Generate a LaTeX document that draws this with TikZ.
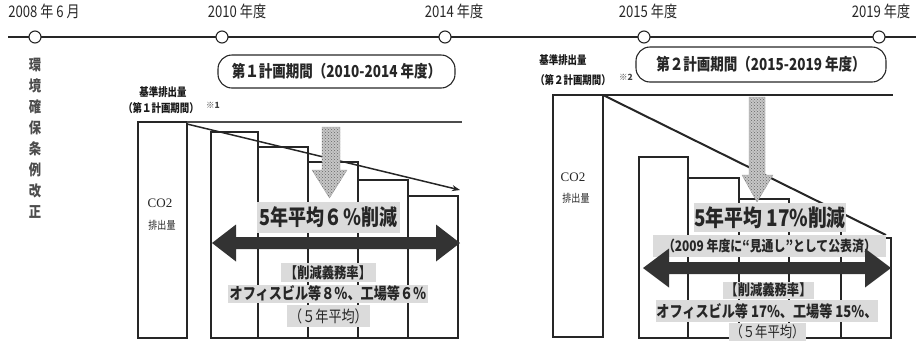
\documentclass[tikz,border=0pt]{standalone}
\usepackage{fontspec}
\usepackage{graphicx}
\setmainfont{Noto Sans CJK JP}
\newfontfamily\serifco{Liberation Serif}
\usetikzlibrary{patterns,arrows.meta}
\newcommand{\nw}[1]{\scalebox{0.82}[1]{#1}}
\newcommand{\fs}[1]{\fontsize{#1}{#1}\selectfont}
\begin{document}
\begin{tikzpicture}[x=1pt,y=-1pt,
  tl/.style={line width=1.2pt, draw=black!85},
  mile/.style={circle, draw=black!85, line width=1.1pt, fill=white, minimum size=12pt, inner sep=0pt},
  yr/.style={font=\fs{16}, inner sep=0pt, text=black!85},
  vch/.style={font=\bfseries\fs{15}, inner sep=0pt, text=black!70},
  pbox/.style={draw=black!85, line width=1.1pt, rounded corners=14pt, inner sep=0pt, font=\bfseries\fs{16.5}, text=black!85},
  kijun/.style={font=\bfseries\fs{11.5}, inner sep=0pt, text=black!90},
  note/.style={font=\bfseries\fs{8.5}, inner sep=0pt, text=black!75},
  bar/.style={draw=black!85, line width=1.1pt},
  refl/.style={draw=black!70, line width=1.8pt},
  gbox/.style={fill=gray!28, inner sep=0pt, text=black!85},
  hatch/.style={fill=gray!45, draw=gray!80, line width=0.3pt},
  hatchdots/.style={pattern=crosshatch dots, pattern color=black!60},
  darr/.style={fill=black!80},
  co/.style={font=\serifco\fs{13}, inner sep=0pt, text=black!85},
  hai/.style={font=\fs{11}, inner sep=0pt, text=black!85}
]
\useasboundingbox (0,0) rectangle (916,341);

% ---------- timeline ----------
\coordinate (tlL) at (8,37);
\coordinate (tlR) at (916,37);
\draw[tl] (tlL) -- (tlR);
\node[mile] (m08) at (35,37) {};
\node[mile] (m10) at (222,37) {};
\node[mile] (m14) at (445,37) {};
\node[mile] (m15) at (644,37) {};
\node[mile] (m19) at (879,37) {};
\node[yr] (y08) at (44,11) {\nw{2008 年 6 月}};
\node[yr] (y10) at (237,11) {\nw{2010 年度}};
\node[yr] (y14) at (454,11) {\nw{2014 年度}};
\node[yr] (y15) at (648,11) {\nw{2015 年度}};
\node[yr] (y19) at (881,11) {\nw{2019 年度}};

% vertical text
\foreach \c [count=\i from 0] in {環,境,確,保,条,例,改,正}
  \node[vch] (v\i) at (35,65+21*\i) {\nw{\c}};

% plan period boxes
\node[pbox, minimum width=237pt, minimum height=33pt] (p1) at (336.5,71.5) {\nw{第１計画期間（2010-2014 年度）}};
\node[pbox, minimum width=250pt, minimum height=35pt] (p2) at (761,64.5) {\nw{第２計画期間（2015-2019 年度）}};

% ---------- chart 1 ----------
\node[kijun] (k1a) at (163,92) {\nw{基準排出量}};
\node[kijun] (k1b) at (161,108) {\nw{（第１計画期間）}};
\node[note] (n1) at (213,105) {※1};

\draw[bar] (138,122) rectangle (187,338);
\coordinate (r1s) at (187,122);
\coordinate (r1e) at (462,122);
\draw[refl] (r1s) -- (r1e);
\draw[bar] (211,132) rectangle (258,338);
\draw[bar] (258,147) rectangle (308,338);
\draw[bar] (308,162) rectangle (358,338);
\draw[bar] (358,180) rectangle (408,338);
\draw[bar] (408,196) rectangle (458,338);
\node[co] (co1) at (160,203) {CO2};
\node[hai] (h1) at (162,225) {\nw{排出量}};

\coordinate (d1s) at (187,124);
\coordinate (d1e) at (460,190);
\draw[line width=1.5pt, black!85, -{Stealth[length=8pt,width=6pt]}] (d1s) -- (d1e);

\path[hatch] (322,127) -- (340,127) -- (340,170) -- (347,170) -- (329.5,198) -- (312,170) -- (322,170) -- cycle;
\path[hatchdots] (322,127) -- (340,127) -- (340,170) -- (347,170) -- (329.5,198) -- (312,170) -- (322,170) -- cycle;

\node[gbox, minimum width=143pt, minimum height=31pt, font=\bfseries\fs{22}] (g1a) at (328.5,217.5) {\nw{5年平均６％削減}};
\node[gbox, minimum width=95pt, minimum height=19pt, font=\bfseries\fs{15}] (g1b) at (328,272.5) {\nw{【削減義務率】}};
\node[gbox, minimum width=200pt, minimum height=18pt, font=\bfseries\fs{16}] (g1c) at (328,293.5) {\nw{オフィスビル等８％、工場等６％}};
\node[gbox, minimum width=83pt, minimum height=22pt, font=\fs{16}] (g1d) at (328.5,316) {\nw{（５年平均）}};

\fill[darr] (212,243) -- (236,224.5) -- (236,237) -- (436,237) -- (436,224.5) -- (460,243) -- (436,261.5) -- (436,249) -- (236,249) -- (236,261.5) -- cycle;

% ---------- chart 2 ----------
\node[kijun] (k2a) at (563,60) {\nw{基準排出量}};
\node[kijun] (k2b) at (573,80) {\nw{（第２計画期間）}};
\node[note] (n2) at (626,77) {※2};

\draw[bar] (553,95) rectangle (603,337);
\draw[line width=2pt, black!85] (553,95) -- (603,95);
\coordinate (r2s) at (603,95);
\coordinate (r2e) at (893,95);
\draw[line width=1.2pt, black!85] (r2s) -- (r2e);
\draw[bar] (639,157) rectangle (688,338);
\draw[bar] (688,178) rectangle (739,338);
\draw[bar] (739,199) rectangle (789,338);
\draw[bar] (789,218) rectangle (841,338);
\draw[bar] (841,238) rectangle (891,338);
\node[co] (co2) at (573,177) {CO2};
\node[hai] (h2) at (576,198) {\nw{排出量}};

\coordinate (d2s) at (603,95);
\coordinate (d2e) at (886,235);
\draw[line width=2pt, black!85] (d2s) -- (d2e);

\path[hatch] (749,97) -- (765,97) -- (765,175) -- (773,175) -- (757,202) -- (742,175) -- (749,175) -- cycle;
\path[hatchdots] (749,97) -- (765,97) -- (765,175) -- (773,175) -- (757,202) -- (742,175) -- (749,175) -- cycle;

\node[gbox, minimum width=152pt, minimum height=29pt, font=\bfseries\fs{23}] (g2a) at (770,217.5) {\nw{5年平均 17\%削減}};
\node[gbox, minimum width=233pt, minimum height=22pt, font=\bfseries\fs{14.5}] (g2b) at (769.5,246) {\nw{（2009 年度に“見通し”として公表済）}};
\node[gbox, minimum width=91pt, minimum height=17pt, font=\bfseries\fs{15}] (g2c) at (768.5,290) {\nw{【削減義務率】}};
\node[gbox, minimum width=222pt, minimum height=22pt, font=\bfseries\fs{16}] (g2d) at (767,311) {\nw{オフィスビル等 17\%、工場等 15\%、}};
\node[gbox, minimum width=77pt, minimum height=18pt, font=\fs{15}] (g2e) at (767.5,332) {\nw{（５年平均）}};

\fill[darr] (643,268) -- (669,248.5) -- (669,262) -- (865,262) -- (865,248.5) -- (891,268) -- (865,287.5) -- (865,274) -- (669,274) -- (669,287.5) -- cycle;
\end{tikzpicture}
\end{document}
